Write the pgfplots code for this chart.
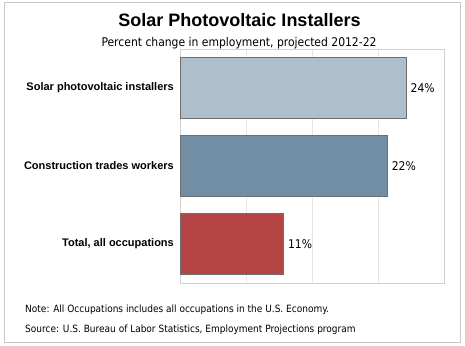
\documentclass[border=0pt]{standalone}
\usepackage{pgfplots}
\pgfplotsset{compat=1.18}
\usepackage{fontspec}
\setmainfont{Liberation Sans}
\newfontfamily\tahoma{DejaVu Sans Condensed}
\definecolor{barA}{HTML}{AEBFCB}
\definecolor{barB}{HTML}{718EA4}
\definecolor{barC}{HTML}{B54545}
\definecolor{edge}{HTML}{6E6E6E}
\begin{document}
\begin{tikzpicture}[x=1bp,y=1bp]
\path (0,0) rectangle (465,345);
\draw[draw=black!22, line width=1bp] (4,3) rectangle (460,342);
\node[font=\fontsize{18bp}{20bp}\selectfont\bfseries, anchor=base] at (239.5,319) {Solar Photovoltaic Installers};
\node[font=\tahoma\fontsize{12bp}{14bp}\selectfont, anchor=base] at (239,298.5) {Percent change in employment, projected 2012-22};
\node[font=\tahoma\fontsize{10bp}{12bp}\selectfont, anchor=base west, inner sep=0pt] at (25,33) {Note: All Occupations includes all occupations in the U.S. Economy.};
\node[font=\tahoma\fontsize{10bp}{12bp}\selectfont, anchor=base west, inner sep=0pt] at (25,13) {Source: U.S. Bureau of Labor Statistics, Employment Projections program};
\begin{axis}[
  at={(180bp,62bp)}, anchor=south west,
  width=264bp, height=234bp, scale only axis,
  xmin=0, xmax=28, ymin=-0.5, ymax=2.5, y dir=reverse,
  xtick={7,14,21}, xticklabels={},
  ytick={0,1,2},
  yticklabels={Solar photovoltaic installers,Construction trades workers,{Total, all occupations}},
  yticklabel style={font=\fontsize{11bp}{13bp}\selectfont\bfseries, inner sep=0pt, xshift=-6bp},
  xmajorgrids, major grid style={draw=black!10},
  axis line style={draw=black!18},
  major tick length=0pt,
  xbar, bar width=0.78, bar shift=0pt,
  /pgf/number format/assume math mode=true,
  nodes near coords={\pgfmathprintnumber{\pgfplotspointmeta}\%},
  point meta=x,
  every node near coord/.append style={font=\tahoma\fontsize{12bp}{14bp}\selectfont, anchor=west, inner sep=0pt, xshift=4bp, text=black},
  clip=false,
]
\addplot[fill=barA, draw=edge, line width=0.8bp] coordinates {(24,0)};
\addplot[fill=barB, draw=edge, line width=0.8bp] coordinates {(22,1)};
\addplot[fill=barC, draw=edge, line width=0.8bp] coordinates {(11,2)};
\end{axis}
\end{tikzpicture}
\end{document}
